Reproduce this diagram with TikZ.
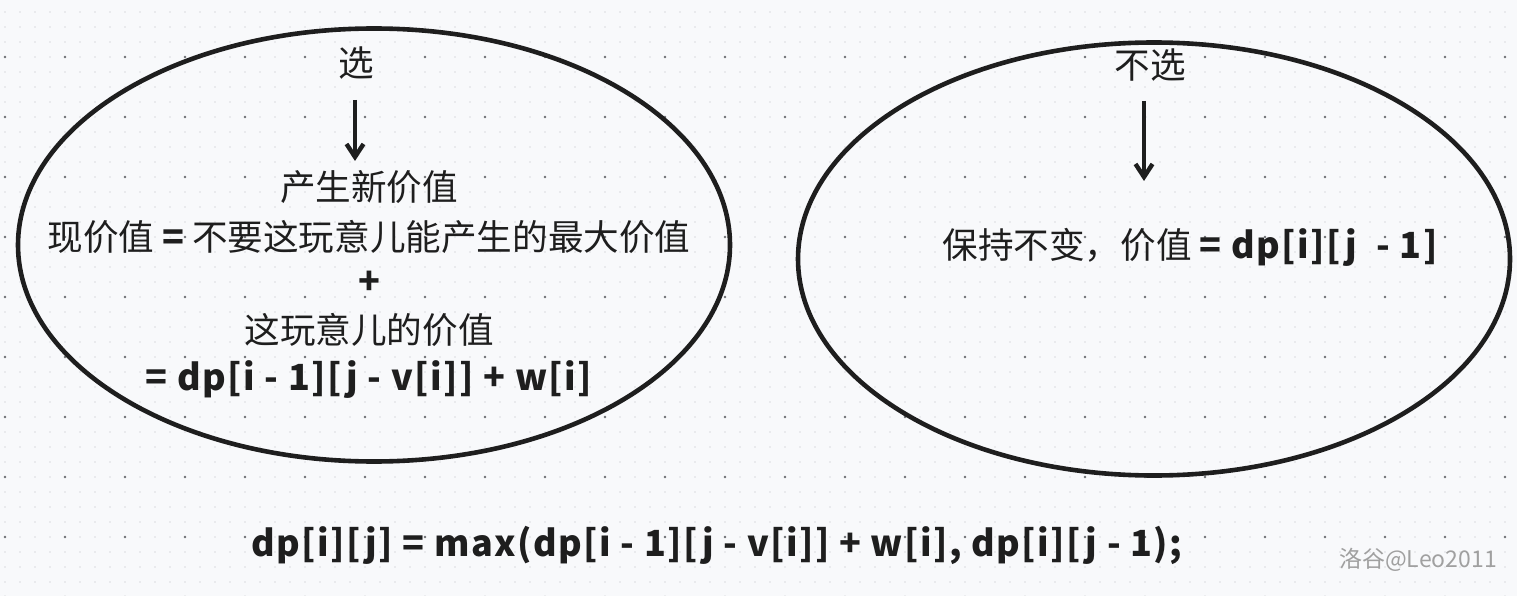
\documentclass[tikz,border=0pt]{standalone}
\usepackage{xcolor}
\definecolor{paper}{RGB}{248,249,251}
\definecolor{ink}{RGB}{30,30,30}
\definecolor{dotminor}{RGB}{218,220,224}
\definecolor{dotmajor}{RGB}{110,112,116}
\definecolor{markgray}{RGB}{160,160,160}
\usepackage{fontspec}
\setmainfont{Noto Sans CJK SC}
\newfontfamily\formfont{Noto Sans CJK SC}[LetterSpace=4]
\usepackage{tikz}
\usetikzlibrary{arrows.meta}
\usetikzlibrary{shapes.geometric}
\newcommand{\txtsize}{\fontsize{35.6}{42}\selectfont}
\newcommand{\formsize}{\formfont\fontsize{36}{42}\selectfont\bfseries}
\tikzset{
    choice/.style={draw=ink, ellipse, line width=4.6pt, minimum width=712, minimum height=433, inner sep=0pt},
    word/.style={inner sep=2pt, text=ink, font=\txtsize},
    formula/.style={inner sep=2pt, text=ink, font=\formsize},
    step-arrow/.style={-{Straight Barb[length=13pt, width=17pt, line width=4.4pt]}, draw=ink, line width=4.4pt},
    watermark/.style={inner sep=0pt, text=markgray, font=\fontsize{23}{28}\selectfont}
}

\begin{document}
\begin{tikzpicture}[x=1pt, y=-1pt]

      \fill[paper] (0,0) rectangle (1517,596);
      \useasboundingbox (0,0) rectangle (1517,596);

      % grid
      \foreach \i in {0,...,101}
        \foreach \j in {0,...,39}
          \fill[dotminor] (5+15*\i, 12+15*\j) circle (0.9);
      \foreach \i in {0,...,25}
        \foreach \j in {0,...,9}
          \fill[dotmajor] (5+60*\i, 57+60*\j) circle (1.4);

      \node[choice] (take) at (374,245) {};
      \node[choice] (skip) at (1154,259) {};

      % left: take it
      \node[word] (sel) at (356,63) {选};
      \node[word] (newval) at (369,187) {产生新价值};
      \node[word] (nowval) at (369,237) {现价值\ {\formsize =}\ 不要这玩意儿能产生的最大价值};
      \node[formula] (plus) at (369,283) {+};
      \node[word] (itemval) at (369,330) {这玩意儿的价值};
      \node[formula] (takeexpr) at (369,380) {=\ dp[i\ -\ 1][j\ -\ v[i]]\ +\ w[i]};

      \coordinate (sel-tail) at (355,100);
      \coordinate (sel-tip) at (355,161);
      \draw[step-arrow] (sel-tail) -- (sel-tip);

      % right: skip it
      \node[word] (nosel) at (1150,65) {不选};
      \node[word] (keep) at (1190,247) {保持不变，价值\ {\formsize = dp[i][j\ \ - 1]}};

      \coordinate (nosel-tail) at (1144,101);
      \coordinate (nosel-tip) at (1144,181);
      \draw[step-arrow] (nosel-tail) -- (nosel-tip);

      \node[formula] (rule) at (717,545) {dp[i][j] = max(dp[i - 1][j - v[i]] + w[i], dp[i][j - 1);};

      \node[watermark, anchor=east] (mark) at (1497,560) {洛谷@Leo2011};
    \end{tikzpicture}
\end{document}
